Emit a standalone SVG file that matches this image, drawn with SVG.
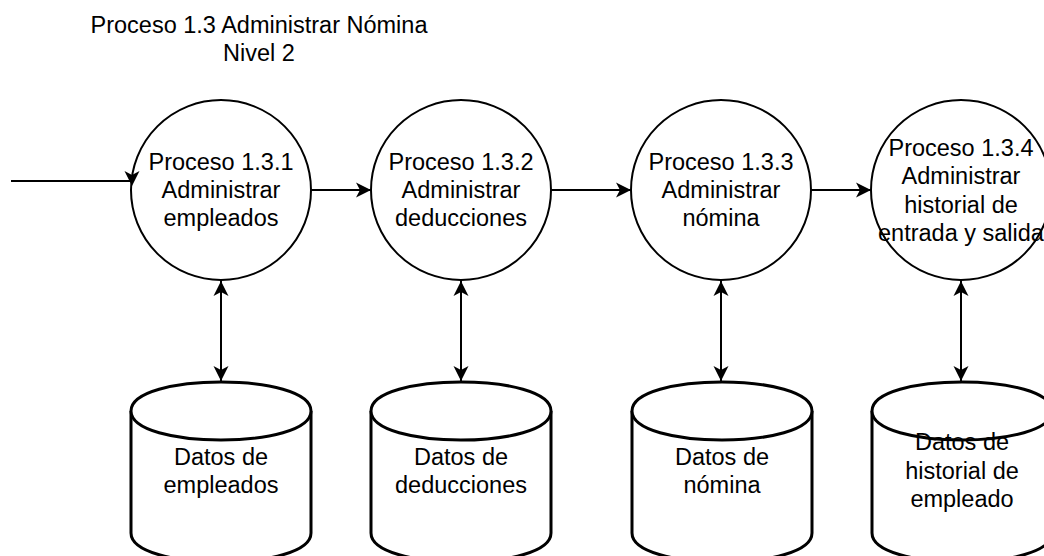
<svg xmlns="http://www.w3.org/2000/svg" width="1044" height="556" viewBox="0 0 1044 556">
<style>
text{font-family:"Liberation Sans",Arial,sans-serif;font-size:23.5px;fill:#000;text-anchor:middle}
.proc{fill:#fff;stroke:#000;stroke-width:2}
.store{fill:#fff;stroke:#000;stroke-width:3}
.flow{fill:none;stroke:#000;stroke-width:2}
.one{marker-end:url(#ah)}
.two{marker-start:url(#ah);marker-end:url(#ah)}
</style>
<defs>
<marker id="ah" viewBox="0 0 16 16" refX="15" refY="8" markerWidth="16" markerHeight="16" markerUnits="userSpaceOnUse" orient="auto-start-reverse">
<path d="M0,0.5 L15,8 L0,15.5 L4,8 Z" fill="#000"/>
</marker>
</defs>
<rect width="1044" height="556" fill="#fff"/>
<g id="title">
<text x="259" y="33">Proceso 1.3 Administrar Nómina</text>
<text x="259" y="61">Nivel 2</text>
</g>
<g id="p131">
<circle class="proc" cx="221" cy="190" r="90"/>
<text x="221" y="170">Proceso 1.3.1</text>
<text x="221" y="198">Administrar</text>
<text x="221" y="226">empleados</text>
</g>
<g id="p132">
<circle class="proc" cx="461" cy="190" r="90"/>
<text x="461" y="170">Proceso 1.3.2</text>
<text x="461" y="198">Administrar</text>
<text x="461" y="226">deducciones</text>
</g>
<g id="p133">
<circle class="proc" cx="721" cy="190" r="90"/>
<text x="721" y="170">Proceso 1.3.3</text>
<text x="721" y="198">Administrar</text>
<text x="721" y="226">nómina</text>
</g>
<g id="p134">
<circle class="proc" cx="961" cy="190" r="90"/>
<text x="961" y="156">Proceso 1.3.4</text>
<text x="961" y="184">Administrar</text>
<text x="961" y="212.5">historial de</text>
<text x="961" y="241">entrada y salida</text>
</g>
<g id="d1">
<path class="store" d="M131,411 C131,372.3 311,372.3 311,411 L311,533 C311,571.7 131,571.7 131,533 Z"/>
<path class="store" d="M131,411 C131,449.7 311,449.7 311,411" fill="none"/>
<text x="221" y="465">Datos de</text>
<text x="221" y="493">empleados</text>
</g>
<g id="d2">
<path class="store" d="M371,411 C371,372.3 551,372.3 551,411 L551,533 C551,571.7 371,571.7 371,533 Z"/>
<path class="store" d="M371,411 C371,449.7 551,449.7 551,411" fill="none"/>
<text x="461" y="465">Datos de</text>
<text x="461" y="493">deducciones</text>
</g>
<g id="d3">
<path class="store" d="M632,411 C632,372.3 812,372.3 812,411 L812,533 C812,571.7 632,571.7 632,533 Z"/>
<path class="store" d="M632,411 C632,449.7 812,449.7 812,411" fill="none"/>
<text x="722" y="465">Datos de</text>
<text x="722" y="493">nómina</text>
</g>
<g id="d4">
<path class="store" d="M872,411 C872,372.3 1052,372.3 1052,411 L1052,533 C1052,571.7 872,571.7 872,533 Z"/>
<path class="store" d="M872,411 C872,449.7 1052,449.7 1052,411" fill="none"/>
<text x="962" y="450">Datos de</text>
<text x="962" y="478.5">historial de</text>
<text x="962" y="507">empleado</text>
</g>
<g id="connectors">
<path class="flow" d="M11,181 L131,181"/>
<path d="M132,186 L124.5,171 L132,175 L139.5,171 Z" fill="#000"/>
<path class="flow one" d="M311,190 L371,190"/>
<path class="flow one" d="M551,190 L631,190"/>
<path class="flow one" d="M811,190 L871,190"/>
<path class="flow two" d="M221,281 L221,381"/>
<path class="flow two" d="M461,281 L461,381"/>
<path class="flow two" d="M721,281 L721,381"/>
<path class="flow two" d="M961,281 L961,381"/>
</g>
</svg>
